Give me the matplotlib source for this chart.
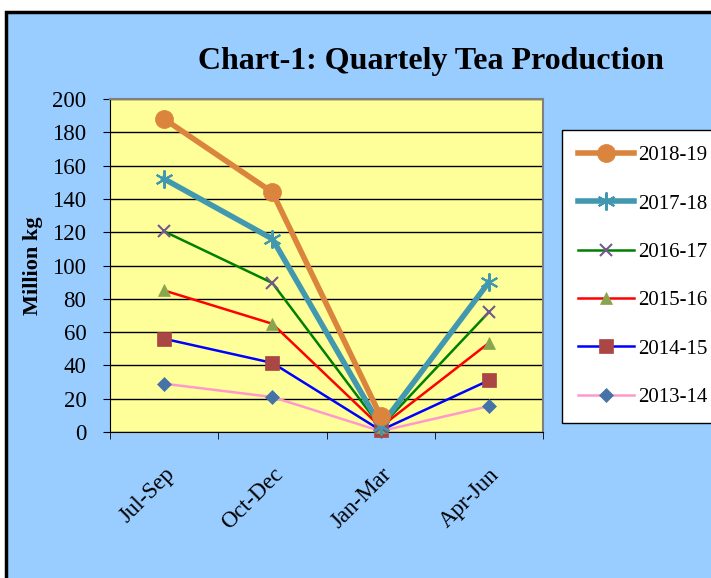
import numpy as np
import matplotlib.pyplot as plt
from matplotlib.patches import Rectangle

plt.rcParams['font.family'] = ['Liberation Serif', 'DejaVu Serif']

quarters = ["Jul-Sep", "Oct-Dec", "Jan-Mar", "Apr-Jun"]
years = ["2018-19", "2017-18", "2016-17", "2015-16", "2014-15", "2013-14"]

v_2018_19 = [188, 144, 9.5, np.nan]
v_2017_18 = [152, 116, 3.5, 90]
v_2016_17 = [120.5, 89.5, 3, 72]
v_2015_16 = [85, 65, 3, 53.5]
v_2014_15 = [56, 41.5, 1, 31]
v_2013_14 = [29, 21, 0.5, 15.5]

values = [v_2018_19, v_2017_18, v_2016_17, v_2015_16, v_2014_15, v_2013_14]
line_colors = ["#DB843D", "#4198AF", "#008000", "#FF0000", "#0000FF", "#FF99CC"]
marker_colors = ["#DB843D", "#4198AF", "#71588F", "#89A54E", "#AA4643", "#4572A7"]
markers = ["o", (6, 2, 0), "x", "^", "s", "D"]
widths = [4, 4, 1.8, 1.8, 1.8, 1.8]
msizes = [13, 13, 9, 9, 10, 7]

fig = plt.figure(figsize=(7.11, 5.78), dpi=100)
fig.patch.set_facecolor("white")
bg = Rectangle((6 / 711, -0.05), 1.0, 1 - 12 / 578 + 0.05,
               transform=fig.transFigure, facecolor="#99CCFF",
               edgecolor="black", linewidth=2.5, zorder=-10)
fig.add_artist(bg)

ax = fig.add_axes([110 / 711, 1 - 432 / 578, 433 / 711, 333 / 578])
ax.set_zorder(1)
ax.set_facecolor("#FFFF99")
x = np.arange(len(quarters))

handles = []
for i in range(len(years) - 1, -1, -1):
    h, = ax.plot(x, values[i], color=line_colors[i], lw=widths[i], marker=markers[i],
                 markersize=msizes[i], markerfacecolor=marker_colors[i],
                 markeredgecolor=marker_colors[i],
                 markeredgewidth=1.5 if i in (1, 2) else 0.5,
                 label=years[i], zorder=3 + (6 - i), clip_on=False)
    handles.append(h)
handles = handles[::-1]

ax.set_xlim(-0.5, 3.5)
ax.set_ylim(0, 200)
ax.set_yticks(np.arange(0, 201, 20))
ax.grid(axis="y", color="black", linewidth=1)
ax.set_axisbelow(True)
ax.set_xticks(x)
ax.set_xticklabels(quarters, rotation=45, ha="right", rotation_mode="anchor", fontsize=16.5)
ax.set_xticks(np.arange(-0.5, 4, 1), minor=True)
ax.tick_params(axis="x", which="major", length=0, pad=23)
ax.tick_params(axis="x", which="minor", length=5, direction="out", color="black")
ax.tick_params(axis="y", labelsize=16.5, length=5, direction="out", color="black", pad=12)
for s in ["top", "right"]:
    ax.spines[s].set_color("#808080")
    ax.spines[s].set_linewidth(1.5)
ax.spines["left"].set_color("black")
ax.spines["bottom"].set_color("black")

ax.set_ylabel("Million kg", fontsize=16, fontweight="bold", labelpad=7)

fig.text(431 / 711, 1 - 61 / 578, "Chart-1: Quartely Tea Production", ha="center",
         va="center", fontsize=23, fontweight="bold")

leg = fig.legend(handles=handles, loc="upper left", bbox_to_anchor=(562 / 711, 1 - 130 / 578),
                 frameon=True, fontsize=15, handlelength=2.7, handletextpad=0.2,
                 labelspacing=1.38, borderpad=0.75, borderaxespad=0, fancybox=False,
                 edgecolor="black", framealpha=1)
leg.get_frame().set_linewidth(1)
leg.set_zorder(5)

fig.savefig("out.png", dpi=100)
